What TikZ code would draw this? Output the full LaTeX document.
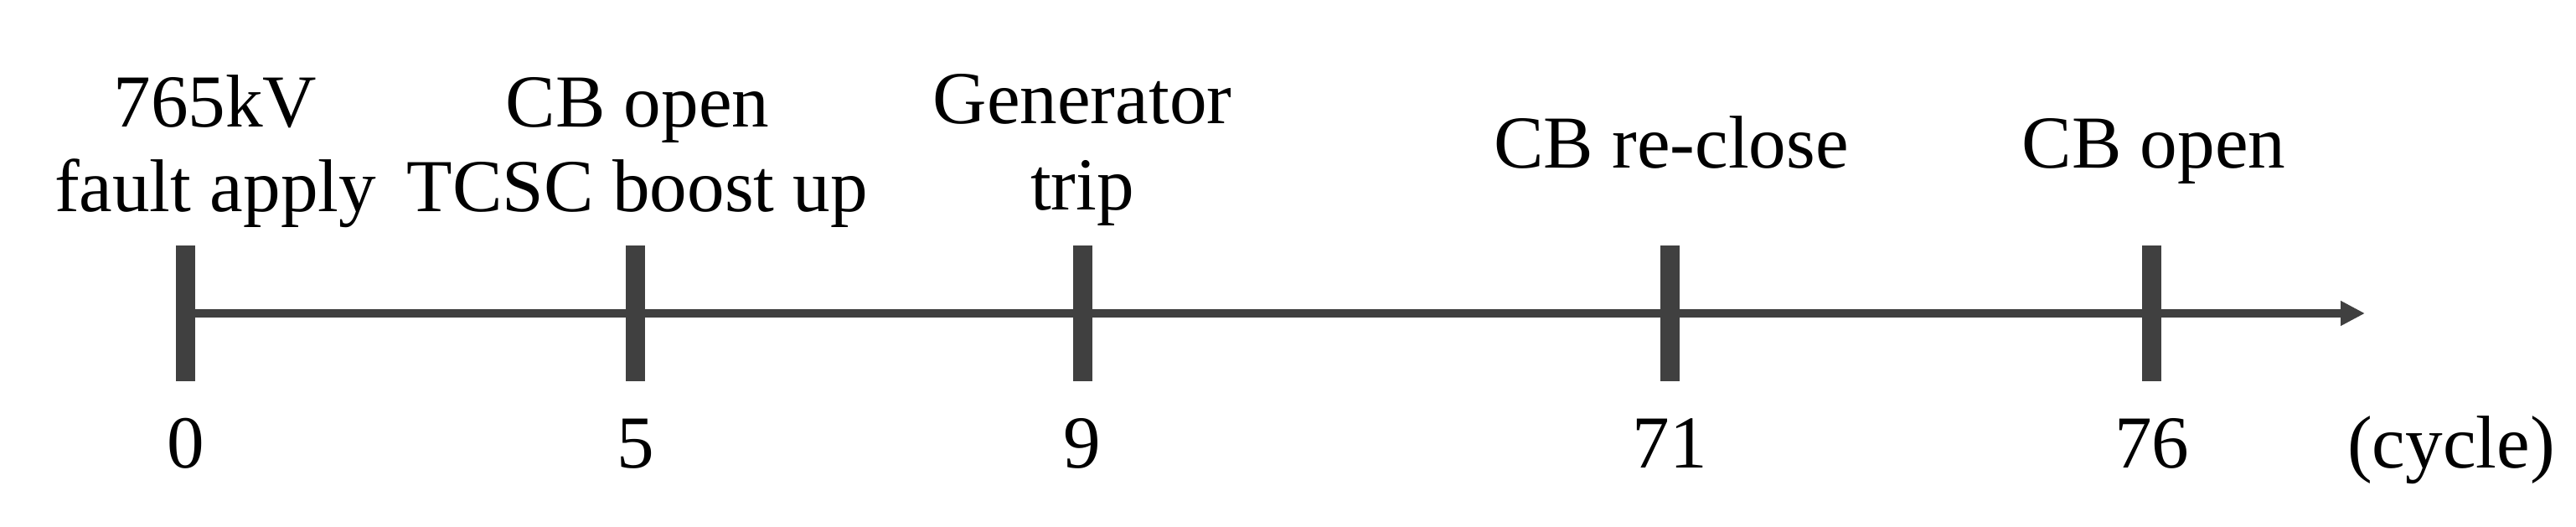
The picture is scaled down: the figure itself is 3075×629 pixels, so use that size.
\documentclass[tikz,border=0pt]{standalone}
\usepackage{fontspec}
\setmainfont{Liberation Serif}
\usetikzlibrary{arrows.meta}
\definecolor{axisgray}{HTML}{404040}
\tikzset{
  x=0.25pt, y=-0.25pt,
  tickbar/.style={fill=axisgray, draw=none, inner sep=0pt, minimum width=5.75pt, minimum height=40.5pt},
  axisline/.style={draw=axisgray, line width=2.3pt, -{Triangle[length=7.25pt,width=7pt]}},
  lbl/.style={inner sep=0pt, anchor=base, font=\fontsize{22.3}{25}\selectfont, text=black}
}
\begin{document}
\begin{tikzpicture}
\useasboundingbox (0,0) rectangle (3075,629);
% ticks
\node[tickbar] (t0) at (221.7,374) {};
\node[tickbar] (t5) at (758.4,374) {};
\node[tickbar] (t9) at (1292.2,374) {};
\node[tickbar] (t71) at (1993.5,374) {};
\node[tickbar] (t76) at (2568.7,374) {};
\coordinate (tip) at (2823,374);
% axis
\draw[axisline] (t0.center) -- (tip);
% upper labels
\node[lbl] (l0a) at (257,152) {765kV};
\node[lbl] (l0b) at (257,253) {fault apply};
\node[lbl] (l5a) at (761,152) {CB open};
\node[lbl] (l5b) at (761,253) {TCSC boost up};
\node[lbl] (l9a) at (1292,148) {Generator};
\node[lbl] (l9b) at (1292,251) {trip};
\node[lbl] (l71) at (1995,200.5) {CB re-close};
\node[lbl] (l76) at (2571,200.5) {CB open};
% numbers
\node[lbl] (n0) at (221.7,559) {0};
\node[lbl] (n5) at (758.4,559) {5};
\node[lbl] (n9) at (1292.2,559) {9};
\node[lbl] (n71) at (1993.5,559) {71};
\node[lbl] (n76) at (2568.7,559) {76};
\node[lbl] (unit) at (2926,559) {(cycle)};
\end{tikzpicture}
\end{document}
